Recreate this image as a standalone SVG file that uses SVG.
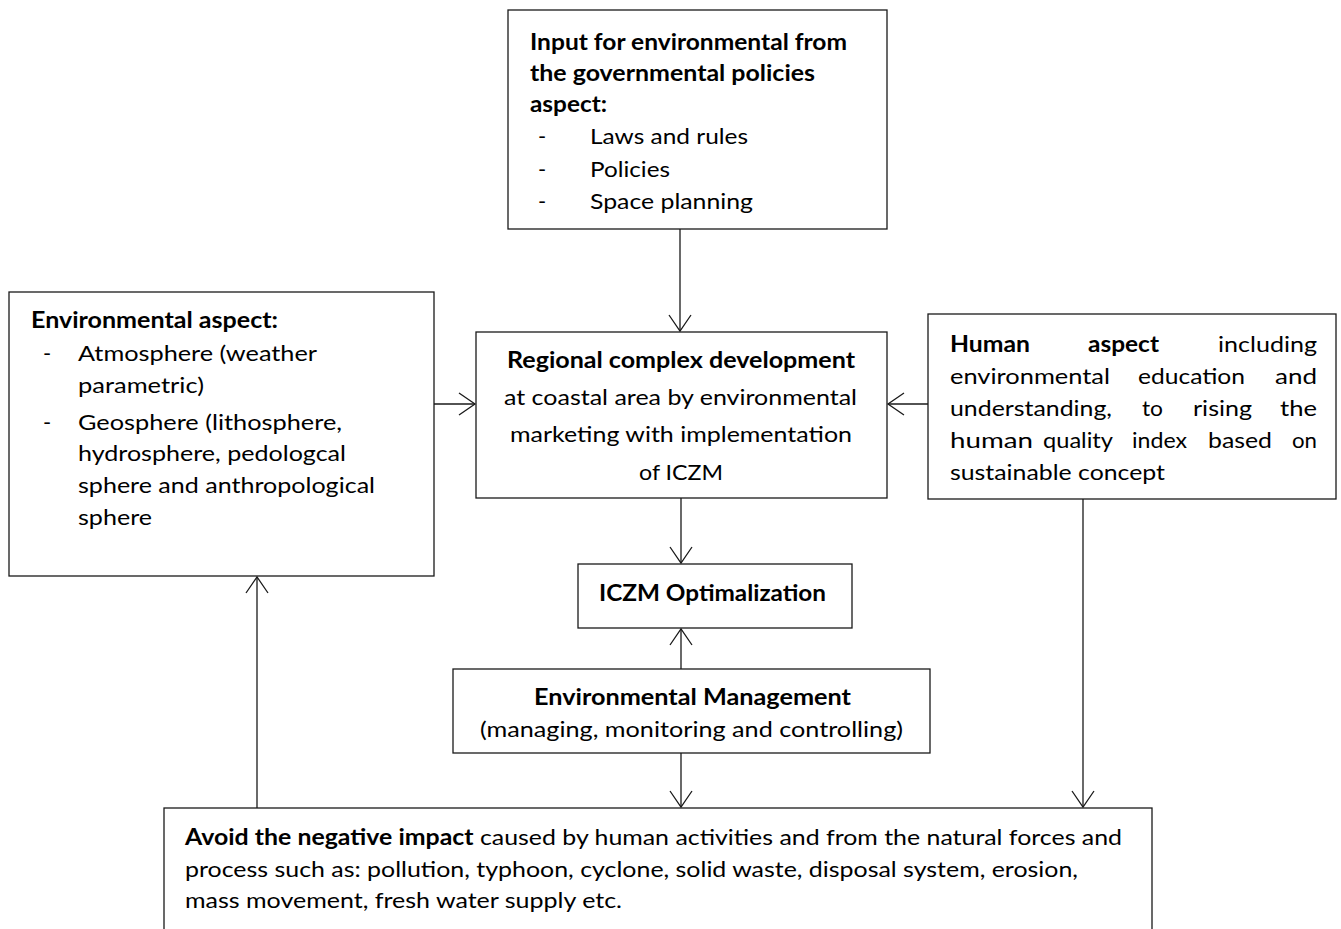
<svg xmlns="http://www.w3.org/2000/svg" width="1341" height="929" viewBox="0 0 1341 929">
<style>
.box{fill:#fff;stroke:#1a1a1a;stroke-width:1.3}
.t{font-family:Lato,"Open Sans","Liberation Sans",sans-serif;font-size:22px;fill:#000}
.b{font-weight:bold}
.c{text-anchor:middle}
.e{text-anchor:end}
.con{fill:none;stroke:#1a1a1a;stroke-width:1.3}
</style>
<defs>
<marker id="arr" markerUnits="userSpaceOnUse" markerWidth="40" markerHeight="40" refX="0" refY="0" viewBox="-20 -20 40 40" orient="auto" overflow="visible">
<path d="M-16,-11 L0,0 L-16,11" fill="none" stroke="#1a1a1a" stroke-width="1.3"/>
</marker>
</defs>
<rect width="1341" height="929" fill="#fff"/>
<g id="connectors">
<line class="con" x1="680" y1="229" x2="680" y2="331" marker-end="url(#arr)"/>
<line class="con" x1="434" y1="404" x2="475" y2="404" marker-end="url(#arr)"/>
<line class="con" x1="928" y1="404" x2="888" y2="404" marker-end="url(#arr)"/>
<line class="con" x1="681" y1="498" x2="681" y2="563" marker-end="url(#arr)"/>
<line class="con" x1="681" y1="669" x2="681" y2="629" marker-end="url(#arr)"/>
<line class="con" x1="681" y1="753" x2="681" y2="807" marker-end="url(#arr)"/>
<line class="con" x1="1083" y1="499" x2="1083" y2="807" marker-end="url(#arr)"/>
<line class="con" x1="257" y1="808" x2="257" y2="577" marker-end="url(#arr)"/>
</g>
<g id="policies">
<rect class="box" x="508" y="10" width="379" height="219"/>
<text class="t b" x="530" y="50" textLength="317" lengthAdjust="spacingAndGlyphs">Input for environmental from</text>
<text class="t b" x="530" y="81" textLength="285" lengthAdjust="spacingAndGlyphs">the governmental policies</text>
<text class="t b" x="530" y="112" textLength="77" lengthAdjust="spacingAndGlyphs">aspect:</text>
<text class="t" x="538" y="144">-</text>
<text class="t" x="590" y="144" textLength="158" lengthAdjust="spacingAndGlyphs">Laws and rules</text>
<text class="t" x="538" y="177">-</text>
<text class="t" x="590" y="177" textLength="80" lengthAdjust="spacingAndGlyphs">Policies</text>
<text class="t" x="538" y="209">-</text>
<text class="t" x="590" y="209" textLength="163" lengthAdjust="spacingAndGlyphs">Space planning</text>
</g>
<g id="environmental">
<rect class="box" x="9" y="292" width="425" height="284"/>
<text class="t b" x="31" y="328" textLength="247" lengthAdjust="spacingAndGlyphs">Environmental aspect:</text>
<text class="t" x="43" y="361">-</text>
<text class="t" x="78" y="361" textLength="239" lengthAdjust="spacingAndGlyphs">Atmosphere (weather</text>
<text class="t" x="78" y="393" textLength="126" lengthAdjust="spacingAndGlyphs">parametric)</text>
<text class="t" x="43" y="430">-</text>
<text class="t" x="78" y="430" textLength="264" lengthAdjust="spacingAndGlyphs">Geosphere (lithosphere,</text>
<text class="t" x="78" y="461" textLength="268" lengthAdjust="spacingAndGlyphs">hydrosphere, pedologcal</text>
<text class="t" x="78" y="493" textLength="297" lengthAdjust="spacingAndGlyphs">sphere and anthropological</text>
<text class="t" x="78" y="525" textLength="74" lengthAdjust="spacingAndGlyphs">sphere</text>
</g>
<g id="human">
<rect class="box" x="928" y="314" width="408" height="185"/>
<text class="t b" x="950" y="352" textLength="80" lengthAdjust="spacingAndGlyphs">Human</text>
<text class="t b" x="1088" y="352" textLength="71" lengthAdjust="spacingAndGlyphs">aspect</text>
<text class="t" x="1218" y="352" textLength="99" lengthAdjust="spacingAndGlyphs">including</text>
<text class="t" x="950" y="384" textLength="160" lengthAdjust="spacingAndGlyphs">environmental</text>
<text class="t" x="1138" y="384" textLength="107" lengthAdjust="spacingAndGlyphs">education</text>
<text class="t" x="1275" y="384" textLength="42" lengthAdjust="spacingAndGlyphs">and</text>
<text class="t" x="950" y="416" textLength="162" lengthAdjust="spacingAndGlyphs">understanding,</text>
<text class="t" x="1142" y="416" textLength="21" lengthAdjust="spacingAndGlyphs">to</text>
<text class="t" x="1193" y="416" textLength="59" lengthAdjust="spacingAndGlyphs">rising</text>
<text class="t" x="1280" y="416" textLength="37" lengthAdjust="spacingAndGlyphs">the</text>
<text class="t" x="950" y="448" textLength="83" lengthAdjust="spacingAndGlyphs">human</text>
<text class="t" x="1043" y="448" textLength="70" lengthAdjust="spacingAndGlyphs">quality</text>
<text class="t" x="1132" y="448" textLength="55" lengthAdjust="spacingAndGlyphs">index</text>
<text class="t" x="1208" y="448" textLength="64" lengthAdjust="spacingAndGlyphs">based</text>
<text class="t" x="1292" y="448" textLength="25" lengthAdjust="spacingAndGlyphs">on</text>
<text class="t" x="950" y="480" textLength="215" lengthAdjust="spacingAndGlyphs">sustainable concept</text>
</g>
<g id="regional">
<rect class="box" x="476" y="332" width="411" height="166"/>
<text class="t b" x="507" y="368" textLength="348" lengthAdjust="spacingAndGlyphs">Regional complex development</text>
<text class="t" x="504" y="405" textLength="353" lengthAdjust="spacingAndGlyphs">at coastal area by environmental</text>
<text class="t" x="510" y="442" textLength="342" lengthAdjust="spacingAndGlyphs">marketing with implementation</text>
<text class="t" x="639" y="480" textLength="84" lengthAdjust="spacingAndGlyphs">of ICZM</text>
</g>
<g id="optimalization">
<rect class="box" x="578" y="564" width="274" height="64"/>
<text class="t b" x="599" y="601" textLength="227" lengthAdjust="spacingAndGlyphs">ICZM Optimalization</text>
</g>
<g id="management">
<rect class="box" x="453" y="669" width="477" height="84"/>
<text class="t b" x="534" y="705" textLength="317" lengthAdjust="spacingAndGlyphs">Environmental Management</text>
<text class="t" x="480" y="737" textLength="423" lengthAdjust="spacingAndGlyphs">(managing, monitoring and controlling)</text>
</g>
<g id="avoid">
<rect class="box" x="164" y="808" width="988" height="140"/>
<text class="t" x="185" y="845" textLength="937" lengthAdjust="spacingAndGlyphs"><tspan class="b">Avoid the negative impact</tspan> caused by human activities and from the natural forces and</text>
<text class="t" x="185" y="877" textLength="893" lengthAdjust="spacingAndGlyphs">process such as: pollution, typhoon, cyclone, solid waste, disposal system, erosion,</text>
<text class="t" x="185" y="908" textLength="437" lengthAdjust="spacingAndGlyphs">mass movement, fresh water supply etc.</text>
</g>
</svg>
